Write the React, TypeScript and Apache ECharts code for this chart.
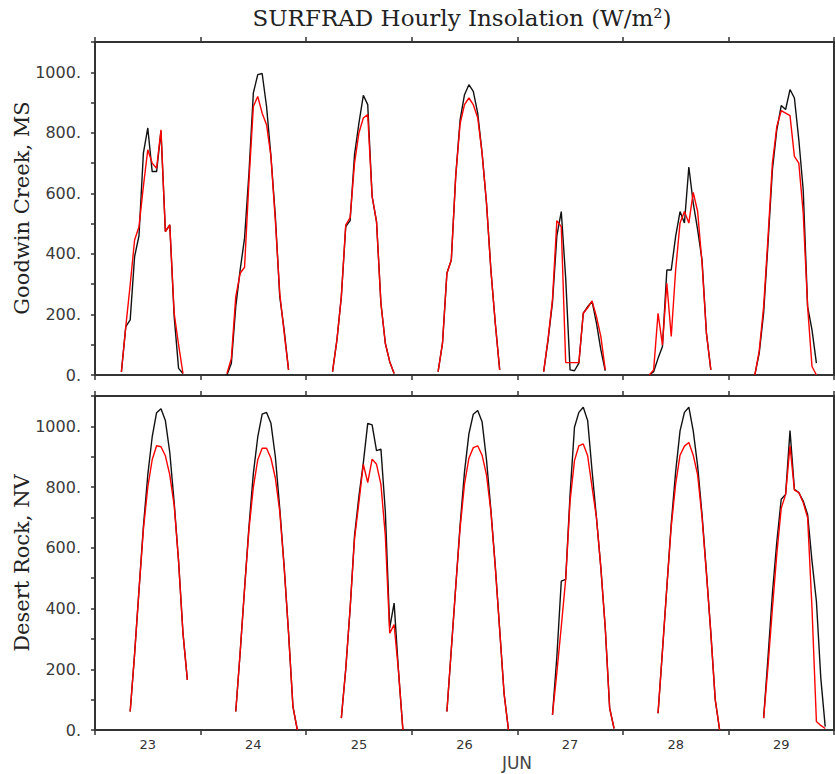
import React, { useEffect, useRef } from 'react';
import * as echarts from 'echarts';

const dayLabels = ['23', '24', '25', '26', '27', '28', '29'];
const monthLabel = 'JUN';
const titleText = 'SURFRAD Hourly Insolation (W/m²)';
const stationTop = 'Goodwin Creek, MS';
const stationBottom = 'Desert Rock, NV';

// Goodwin Creek: hourly values from hour 6 to hour 20 of each day
const goodwinStartHour = 6;
const goodwinBlack: number[][] = [
  [10, 160, 182, 391, 460, 733, 816, 672, 672, 805, 474, 496, 193, 22, 5],
  [0, 39, 226, 347, 452, 667, 932, 992, 996, 887, 722, 524, 259, 149, 17],
  [11, 116, 259, 490, 510, 728, 832, 924, 893, 590, 507, 237, 105, 44, 5],
  [11, 105, 336, 380, 656, 843, 926, 959, 937, 865, 733, 568, 347, 171, 17],
  [11, 115, 240, 460, 540, 320, 17, 14, 39, 204, 226, 243, 171, 83, 14],
  [0, 11, 55, 94, 347, 347, 458, 540, 502, 687, 568, 480, 380, 138, 17],
  [0, 72, 204, 435, 678, 810, 890, 877, 943, 915, 777, 612, 226, 149, 39],
];
const goodwinRed: number[][] = [
  [10, 160, 298, 446, 490, 623, 744, 700, 683, 810, 474, 496, 204, 100, 5],
  [5, 55, 259, 336, 356, 640, 887, 920, 865, 827, 722, 510, 270, 140, 17],
  [11, 116, 259, 495, 520, 700, 800, 849, 860, 590, 507, 237, 105, 44, 5],
  [11, 105, 336, 380, 656, 830, 893, 915, 893, 850, 733, 568, 347, 171, 17],
  [11, 120, 250, 510, 490, 41, 41, 41, 41, 204, 222, 245, 193, 127, 17],
  [0, 17, 204, 99, 303, 127, 347, 502, 540, 502, 603, 540, 369, 138, 17],
  [0, 80, 225, 455, 700, 821, 873, 865, 857, 722, 700, 535, 226, 28, 0],
];

// Desert Rock: hourly values from hour 8 of each day
const desertStartHour = 8;
const desertBlack: number[][] = [
  [61, 250, 460, 670, 840, 965, 1045, 1058, 1019, 914, 749, 556, 319, 165],
  [61, 255, 465, 670, 845, 965, 1040, 1046, 1010, 900, 730, 540, 320, 77, 0],
  [39, 200, 400, 640, 770, 880, 1010, 1005, 920, 925, 720, 336, 418, 193, 0],
  [61, 265, 470, 675, 850, 975, 1040, 1052, 1015, 890, 725, 540, 330, 120, 0],
  [50, 242, 490, 496, 776, 997, 1046, 1063, 1019, 854, 699, 534, 336, 72, 5],
  [55, 260, 470, 680, 850, 985, 1046, 1063, 985, 870, 710, 520, 320, 100, 0],
  [39, 240, 450, 620, 760, 776, 986, 793, 782, 754, 710, 556, 424, 171, 11],
];
const desertRed: number[][] = [
  [61, 250, 460, 660, 800, 890, 936, 933, 903, 840, 740, 556, 319, 165],
  [61, 255, 465, 660, 800, 890, 928, 928, 895, 830, 720, 535, 320, 77, 0],
  [39, 200, 400, 630, 750, 875, 815, 892, 875, 809, 640, 319, 347, 193, 0],
  [61, 265, 470, 665, 810, 895, 930, 936, 905, 840, 720, 535, 330, 120, 0],
  [50, 190, 340, 496, 754, 887, 936, 942, 903, 800, 699, 534, 336, 72, 5],
  [55, 260, 470, 670, 810, 905, 935, 947, 905, 840, 700, 515, 320, 100, 0],
  [39, 210, 400, 580, 730, 776, 936, 790, 782, 749, 700, 400, 28, 15, 5],
];

const HOURS_PER_DAY = 24;

function buildLine(days: number[][], start: number) {
  const out: (number | null)[][] = [];
  days.forEach((vals, d) => {
    vals.forEach((v, i) => out.push([d * HOURS_PER_DAY + start + i, v]));
    out.push([d * HOURS_PER_DAY + start + vals.length, null]);
  });
  return out;
}

const AXIS_COLOR = '#333';

function valueX(gridIndex: number, position: 'top' | 'bottom') {
  return {
    type: 'value',
    gridIndex,
    position,
    min: 0,
    max: dayLabels.length * HOURS_PER_DAY,
    interval: HOURS_PER_DAY,
    axisLine: { show: true, onZero: false, lineStyle: { color: AXIS_COLOR, width: 2 } },
    axisTick: { show: true, length: 5, lineStyle: { color: AXIS_COLOR, width: 1.5 } },
    axisLabel: { show: false },
    splitLine: { show: false },
  };
}

function valueY(gridIndex: number) {
  return {
    type: 'value',
    gridIndex,
    position: 'left',
    min: 0,
    max: 1100,
    interval: 100,
    axisLine: { show: true, onZero: false, lineStyle: { color: AXIS_COLOR, width: 2 } },
    axisTick: { show: true, length: 4, lineStyle: { color: AXIS_COLOR, width: 1.5 } },
    axisLabel: {
      margin: 14,
      color: '#3a3a3a',
      fontSize: 16,
      fontFamily: 'DejaVu Sans',
      formatter: (v: number) => (v % 200 === 0 && v <= 1000 ? `${v}.` : ''),
    },
    splitLine: { show: false },
  };
}

function rightY(gridIndex: number) {
  return {
    type: 'value',
    gridIndex,
    position: 'right',
    min: 0,
    max: 1100,
    interval: 100,
    axisLine: { show: true, onZero: false, lineStyle: { color: AXIS_COLOR, width: 2 } },
    axisTick: { show: false },
    axisLabel: { show: false },
    splitLine: { show: false },
  };
}

export default function App() {
  const ref = useRef<HTMLDivElement>(null);

  useEffect(() => {
    if (!ref.current) return;
    const chart = echarts.init(ref.current, undefined, { renderer: 'svg' });
    const lineStyleBlack = { color: '#111', width: 1.4 };
    const lineStyleRed = { color: '#ff0000', width: 1.4 };
    chart.setOption({
      animation: false,
      backgroundColor: '#fff',
      grid: [
        { left: 95, top: 42, width: 739, height: 333 },
        { left: 95, top: 396, width: 739, height: 334 },
      ],
      xAxis: [
        valueX(0, 'bottom'),
        valueX(0, 'top'),
        valueX(1, 'bottom'),
        valueX(1, 'top'),
        {
          type: 'category',
          gridIndex: 1,
          position: 'bottom',
          data: dayLabels,
          boundaryGap: true,
          axisLine: { show: false, onZero: false },
          axisTick: { show: false },
          axisLabel: { margin: 8, color: '#333', fontSize: 13, fontFamily: 'DejaVu Sans' },
          splitLine: { show: false },
        },
      ],
      yAxis: [valueY(0), rightY(0), valueY(1), rightY(1)],
      series: [
        {
          type: 'line', xAxisIndex: 0, yAxisIndex: 0, symbol: 'none', connectNulls: false,
          lineStyle: lineStyleBlack, itemStyle: { color: '#111' },
          data: buildLine(goodwinBlack, goodwinStartHour),
        },
        {
          type: 'line', xAxisIndex: 0, yAxisIndex: 0, symbol: 'none', connectNulls: false,
          lineStyle: lineStyleRed, itemStyle: { color: '#ff0000' },
          data: buildLine(goodwinRed, goodwinStartHour),
        },
        {
          type: 'line', xAxisIndex: 2, yAxisIndex: 2, symbol: 'none', connectNulls: false,
          lineStyle: lineStyleBlack, itemStyle: { color: '#111' },
          data: buildLine(desertBlack, desertStartHour),
        },
        {
          type: 'line', xAxisIndex: 2, yAxisIndex: 2, symbol: 'none', connectNulls: false,
          lineStyle: lineStyleRed, itemStyle: { color: '#ff0000' },
          data: buildLine(desertRed, desertStartHour),
        },
      ],
      graphic: [
        {
          type: 'text', x: 462, y: 18,
          style: {
            text: titleText, fill: '#222', font: '23px "DejaVu Serif"',
            textAlign: 'center', textVerticalAlign: 'middle',
          },
        },
        {
          type: 'text', x: 22, y: 208, rotation: Math.PI / 2,
          style: {
            text: stationTop, fill: '#222', font: '21px "DejaVu Serif"',
            textAlign: 'center', textVerticalAlign: 'middle',
          },
        },
        {
          type: 'text', x: 22, y: 563, rotation: Math.PI / 2,
          style: {
            text: stationBottom, fill: '#222', font: '21px "DejaVu Serif"',
            textAlign: 'center', textVerticalAlign: 'middle',
          },
        },
        {
          type: 'text', x: 517, y: 763,
          style: {
            text: monthLabel, fill: '#444', font: '17px "DejaVu Sans"',
            textAlign: 'center', textVerticalAlign: 'middle',
          },
        },
      ],
    });
    return () => chart.dispose();
  }, []);

  return (
    <div
      ref={ref}
      style={{ position: 'absolute', left: 0, top: 0, width: 835, height: 774 }}
    />
  );
}
